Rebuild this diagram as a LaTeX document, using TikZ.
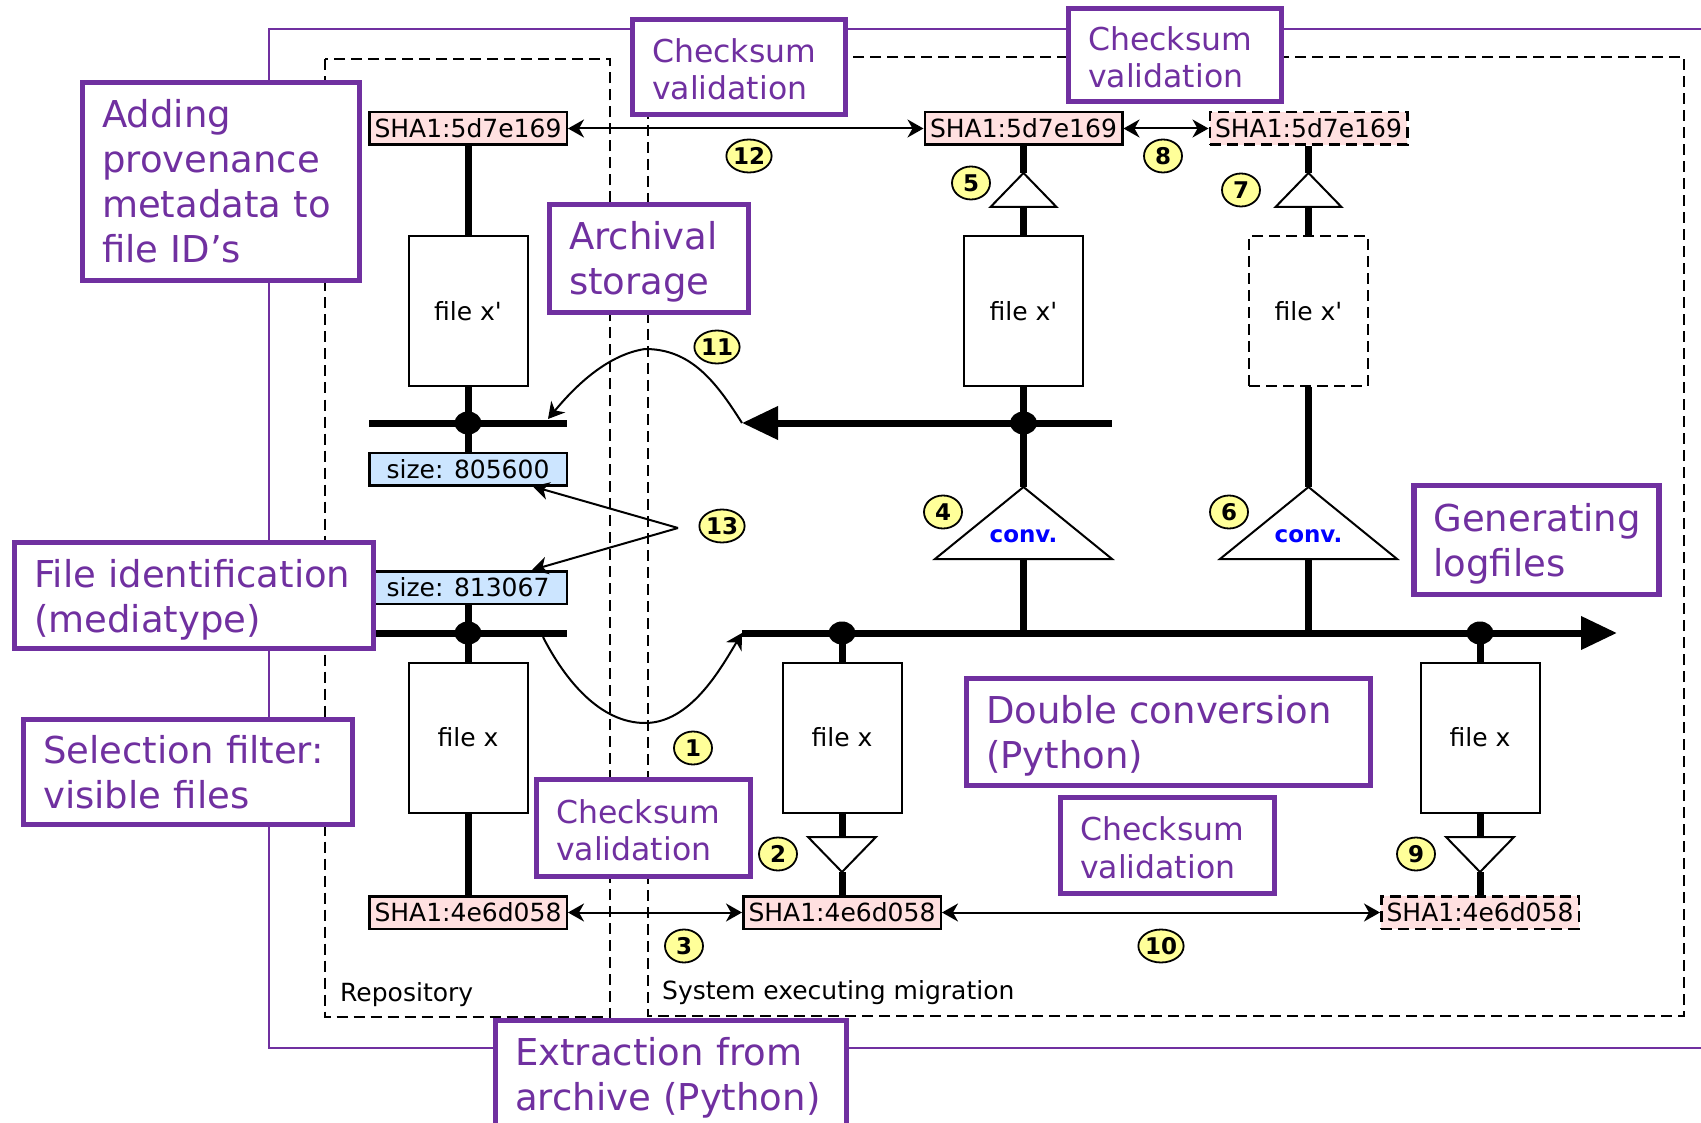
\documentclass[tikz,border=0pt]{standalone}
\usepackage{fontspec}
\setmainfont{DejaVu Sans}[Ligatures=TeXOff]
\usetikzlibrary{arrows.meta,shapes.geometric}

\definecolor{ppurple}{RGB}{112,48,160}
\definecolor{shapink}{RGB}{255,224,224}
\definecolor{sizeblue}{RGB}{204,229,255}
\definecolor{badgeyellow}{RGB}{255,255,153}
\definecolor{convblue}{RGB}{0,0,255}

\begin{document}
\begin{tikzpicture}[x=1pt, y=-1pt,
  >={Stealth[length=16pt,width=18pt,inset=5pt]},
  bus/.style={line width=7pt},
  link/.style={line width=2pt},
  zone/.style={draw, line width=2pt, dash pattern=on 11pt off 6pt},
  smalltext/.style={font=\fontsize{25}{30}\selectfont},
  filebox/.style={draw, line width=2pt, fill=white, minimum width=119pt,
    minimum height=150pt, inner sep=0pt, smalltext},
  hashbox/.style={draw, line width=2.5pt, fill=shapink, minimum width=197.5pt,
    minimum height=32.5pt, inner sep=0pt, smalltext},
  sizebox/.style={hashbox, fill=sizeblue},
  dashedbox/.style={dash pattern=on 11pt off 6pt},
  valve/.style={draw, line width=2pt, fill=white, line join=miter},
  convlabel/.style={anchor=base, text=convblue, font=\bfseries\fontsize{23}{28}\selectfont},
  badge/.style={draw, line width=1.8pt, fill=badgeyellow, ellipse, minimum width=38pt,
    minimum height=33pt, inner sep=0pt, font=\bfseries\fontsize{23}{26}\selectfont},
  note/.style={draw=ppurple, line width=5.3pt, fill=white, text=ppurple, align=left,
    inner xsep=19.5pt, inner ysep=0pt},
  notebig/.style={note, font=\fontsize{37}{45}\selectfont},
  notebigtwo/.style={notebig, text height=27pt, text depth=44pt},
  notesmall/.style={note, font=\fontsize{31.5}{37.5}\selectfont,
    text height=24pt, text depth=33.5pt},
  junction/.style={fill=black},
]
\useasboundingbox (0,0) rectangle (1701,1123);
\clip (0,0) rectangle (1701,1123);

% enclosing frames
\draw[ppurple, line width=2pt] (269,29) rectangle (1760,1048);
\draw[zone] (325,59.5) rectangle (610,1017);
\draw[zone] (648,57) rectangle (1684,1016);

% files
\node[filebox] (fxTL) at (468,311) {file x'};
\node[filebox] (fxTM) at (1023.5,311) {file x'};
\node[filebox, dashedbox] (fxTR) at (1308.5,311) {file x'};
\node[filebox] (fxBL) at (468,737.5) {file x};
\node[filebox] (fxBM) at (842,737.5) {file x};
\node[filebox] (fxBR) at (1480,737.5) {file x};

% checksums
\node[hashbox] (shaTL) at (468,128.5) {SHA1:5d7e169};
\node[hashbox] (shaTM) at (1023.5,128.5) {SHA1:5d7e169};
\node[hashbox, dashedbox] (shaTR) at (1308.5,128.5) {SHA1:5d7e169};
\node[hashbox] (shaBL) at (468,912.5) {SHA1:4e6d058};
\node[hashbox] (shaBM) at (842,912.5) {SHA1:4e6d058};
\node[hashbox, dashedbox] (shaBR) at (1480,912.5) {SHA1:4e6d058};

% sizes
\node[sizebox] (szA) at (468,469) {size: 805600};
\node[sizebox] (szB) at (468,587.5) {size: 813067};

% bus coordinates
\coordinate (ulW) at (369,423);
\coordinate (ulE) at (567,423);
\coordinate (llW) at (369,633);
\coordinate (llE) at (567,633);
\coordinate (ubusL) at (742,423);
\coordinate (ubusR) at (1112,423);
\coordinate (mbusL) at (742,633);
\coordinate (mbusR) at (1617,633);

% buses
\draw[bus] (ulW) -- (ulE);
\draw[bus] (llW) -- (llE);
\draw[bus, {Triangle[length=36pt,width=32pt]}-] (ubusL) -- (ubusR);
\draw[bus, -{Triangle[length=36pt,width=32pt]}] (mbusL) -- (mbusR);

% repository column
\draw[bus] (shaTL.south) -- (fxTL.north);
\draw[bus] (fxTL.south) -- (szA.north);
\draw[bus] (szB.south) -- (fxBL.north);
\draw[bus] (fxBL.south) -- (shaBL.north);

% first conversion column
\coordinate (upA) at (1023.5,173);
\coordinate (upAb) at (1023.5,207);
\coordinate (cvA) at (1023.5,487);
\coordinate (cvAb) at (1023.5,559);
\draw[bus] (shaTM.south) -- (upA);
\draw[bus] (upAb) -- (fxTM.north);
\draw[bus] (fxTM.south) -- (cvA);
\draw[bus] (cvAb) -- (1023.5,633);

% second conversion column
\coordinate (upB) at (1308.5,173);
\coordinate (upBb) at (1308.5,207);
\coordinate (cvB) at (1308.5,487);
\coordinate (cvBb) at (1308.5,559);
\draw[bus] (shaTR.south) -- (upB);
\draw[bus] (upBb) -- (fxTR.north);
\draw[bus] (fxTR.south) -- (cvB);
\draw[bus] (cvBb) -- (1308.5,633);

% lower columns
\coordinate (dnA) at (842,837);
\coordinate (dnAb) at (842,872);
\coordinate (dnB) at (1480,837);
\coordinate (dnBb) at (1480,872);
\draw[bus] (842,633) -- (fxBM.north);
\draw[bus] (fxBM.south) -- (dnA);
\draw[bus] (dnAb) -- (shaBM.north);
\draw[bus] (1480,633) -- (fxBR.north);
\draw[bus] (fxBR.south) -- (dnB);
\draw[bus] (dnBb) -- (shaBR.north);

% junction dots
\fill[junction] (468,423) ellipse [x radius=13.5pt, y radius=11.5pt];
\fill[junction] (468,633) ellipse [x radius=13.5pt, y radius=11.5pt];
\fill[junction] (1023.5,423) ellipse [x radius=13.5pt, y radius=11.5pt];
\fill[junction] (842,633) ellipse [x radius=13.5pt, y radius=11.5pt];
\fill[junction] (1480,633) ellipse [x radius=13.5pt, y radius=11.5pt];

% checksum triangles
\draw[valve] (upA) -- (1056.5,207) -- (990.5,207) -- cycle;
\draw[valve] (upB) -- (1341.5,207) -- (1275.5,207) -- cycle;
\draw[valve] (dnAb) -- (876,837) -- (808,837) -- cycle;
\draw[valve] (dnBb) -- (1514,837) -- (1446,837) -- cycle;

% conversion triangles
\draw[valve] (cvA) -- (1112,559) -- (935,559) -- cycle;
\draw[valve] (cvB) -- (1397,559) -- (1220,559) -- cycle;
\node[convlabel] (convA) at (1023.5,542.5) {conv.};
\node[convlabel] (convB) at (1308.5,542.5) {conv.};

% comparisons
\draw[link, <->] (shaTL.east) -- (shaTM.west);
\draw[link, <->] (shaTM.east) -- (shaTR.west);
\draw[link, <->] (shaBL.east) -- (shaBM.west);
\draw[link, <->] (shaBM.east) -- (shaBR.west);

% size comparison
\coordinate (fork13) at (678,528);
\draw[link, ->] (fork13) -- ([xshift=-35pt]szA.south east);
\draw[link, ->] (fork13) -- ([xshift=-36pt]szB.north east);

% transfers between repository and migration system
\coordinate (land11) at (548,419);
\coordinate (leave1) at (543,637);
\draw[link, ->] (ubusL) .. controls (715,380) and (690,349) .. (645,349)
  .. controls (605,355) and (572,390) .. (land11);
\draw[link, ->] (leave1) .. controls (565,680) and (600,723) .. (645,723)
  .. controls (690,723) and (720,670) .. (mbusL);

% step markers
\node[badge] (b1) at (693,748) {1};
\node[badge] (b2) at (778,854) {2};
\node[badge] (b3) at (684,946) {3};
\node[badge] (b4) at (943,512) {4};
\node[badge] (b5) at (971,183) {5};
\node[badge] (b6) at (1229,512) {6};
\node[badge] (b7) at (1241,190) {7};
\node[badge] (b8) at (1163,156) {8};
\node[badge] (b9) at (1416,854) {9};
\node[badge] (b10) at (1161,946) {10};
\node[badge] (b11) at (717,347) {11};
\node[badge] (b12) at (749,156) {12};
\node[badge] (b13) at (722,526) {13};

% zone labels
\node[smalltext, anchor=base west, inner sep=0pt] (repoLabel) at (340,1001) {Repository};
\node[smalltext, anchor=base west, inner sep=0pt] (sysLabel) at (662,999) {System executing migration};

% process annotations
\node[notesmall, text width=173.7pt, minimum height=94.7pt] (cvTL) at (739,67) {Checksum\\validation};
\node[notesmall, text width=173.7pt, minimum height=92.7pt] (cvTR) at (1175,55) {Checksum\\validation};
\node[notebig, text width=237.7pt, minimum height=197.7pt] (prov) at (221,181.5) {Adding\\provenance\\metadata to\\file ID’s};
\node[notebigtwo, text width=159.7pt, minimum height=107.7pt] (arch) at (649,258.5) {Archival\\storage};
\node[notebigtwo, text width=206pt, minimum height=108.7pt] (logs) at (1536.5,540) {Generating\\logfiles};
\node[notebigtwo, text width=319.7pt, minimum height=105.7pt] (fid) at (194,595.5) {File identification\\(mediatype)};
\node[notebigtwo, text width=289.7pt, minimum height=104.7pt] (sel) at (188,772) {Selection filter:\\visible files};
\node[notesmall, text width=174.7pt, minimum height=96.7pt] (cvLL) at (643.5,828) {Checksum\\validation};
\node[notebigtwo, text width=364.7pt, minimum height=106.7pt] (dbl) at (1168.5,732) {Double conversion\\(Python)};
\node[notesmall, text width=174.7pt, minimum height=95.7pt] (cvLM) at (1167.5,845.5) {Checksum\\validation};
\node[notebigtwo, text width=311.7pt, minimum height=105.7pt] (extr) at (671,1073.5) {Extraction from\\archive (Python)};
\end{tikzpicture}
\end{document}
